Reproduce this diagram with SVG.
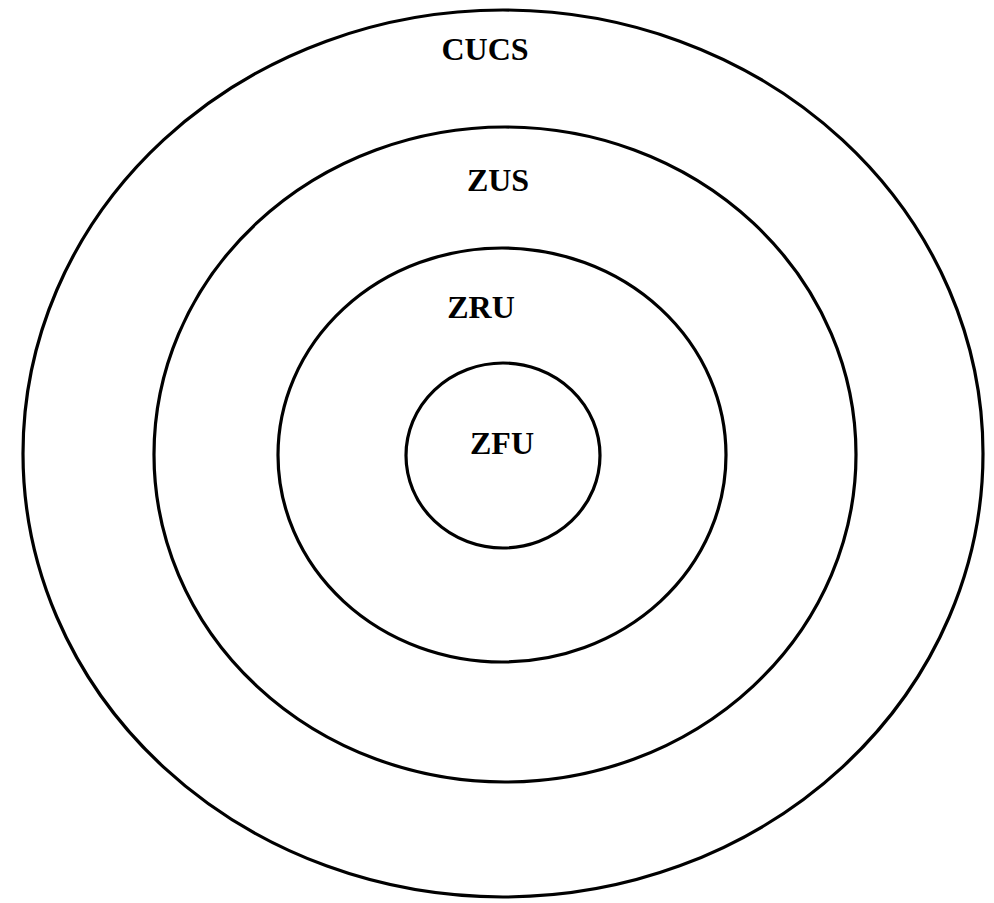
<svg xmlns="http://www.w3.org/2000/svg" width="994" height="903" viewBox="0 0 994 903">
<style>
.ring{fill:none;stroke:#000;stroke-width:3.2}
.lbl{font-family:"Liberation Serif","Times New Roman",serif;font-weight:bold;font-size:32px;text-anchor:middle;fill:#000}
</style>
<rect width="994" height="903" fill="#fff"/>
<g id="cucs">
<ellipse class="ring" cx="503" cy="453.5" rx="480" ry="443.5"/>
<text class="lbl" x="485" y="60">CUCS</text>
</g>
<g id="zus">
<ellipse class="ring" cx="505" cy="454.5" rx="351" ry="327.5"/>
<text class="lbl" x="498" y="191">ZUS</text>
</g>
<g id="zru">
<ellipse class="ring" cx="502" cy="455" rx="224" ry="207"/>
<text class="lbl" x="481" y="318">ZRU</text>
</g>
<g id="zfu">
<ellipse class="ring" cx="503" cy="455.5" rx="97" ry="92.5"/>
<text class="lbl" x="502" y="454">ZFU</text>
</g>
<g id="connectors"/>
</svg>
